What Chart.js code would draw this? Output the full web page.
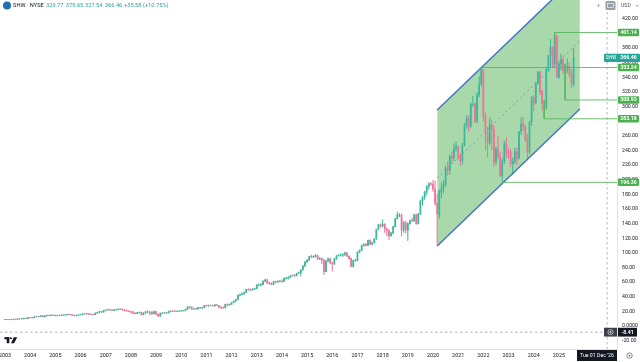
<!DOCTYPE html>
<html>
<head>
<meta charset="utf-8">
<title>SHW - NYSE</title>
<script src="https://cdn.jsdelivr.net/npm/chart.js@4"></script>
<style>
html,body{margin:0;padding:0;background:#fff;overflow:hidden}
canvas{display:block;filter:blur(.3px)}
</style>
</head>
<body>
<canvas id="chart" width="640" height="362"></canvas>
<script>
// monthly candles, Jan 2003 to Aug 2025, one row per year
const opens = [
  8.8,9.0,8.9,8.8,9.0,9.3,9.0,9.9,9.7,9.8,10.6,10.5,
  11.6,11.2,11.4,12.8,12.7,13.0,14.1,12.6,14.0,14.7,14.3,14.9,
  14.9,14.0,14.5,14.7,14.8,15.0,15.7,15.8,15.4,14.7,14.1,14.7,
  15.2,15.8,16.7,16.5,16.9,16.3,15.8,15.5,17.6,18.6,19.8,19.0,
  21.2,22.0,22.4,22.0,21.2,22.2,22.2,23.0,22.9,21.9,21.3,20.5,
  19.5,19.2,17.4,17.0,18.4,18.4,15.3,17.8,19.5,19.0,19.0,16.8,
  19.9,16.0,13.5,17.3,17.9,17.7,18.0,20.0,20.2,20.0,19.9,20.0,
  20.5,20.9,21.0,22.6,26.0,26.0,23.1,23.2,23.5,25.1,24.5,25.2,
  28.0,27.5,28.2,28.0,27.5,29.0,28.0,25.5,25.4,24.8,29.7,28.6,
  29.8,32,34,36,42,43,44,46,50,49.6,49.5,50.5,
  51.3,56,56,56.5,61,63,58.9,58,56.9,60.9,60,61,
  61.2,61,65,65.7,66.6,68.5,69,68.7,72,73,76.7,82,
  87.7,90,95,94.8,95,96.4,91.7,92.5,90,74.3,89,92,
  86.5,85,92,96,96.8,97,98,100,95.5,92.2,81.4,89.6,
  89.6,101,103.5,110,111.6,110,117,112,114,119,132,138.5,
  136.7,139,133,130.7,123.4,127,135.8,146.8,151.7,151.7,131,141,
  131,140,144,143.6,152,140,153,171,175.7,183,190.8,194.5,
  194,187,168,152,183,188,193,216,213,232,230,243,
  245,231,226,247,274,284,272,303,304,280,316,331,
  350,287,263,250,275,268,224,242,232,205,226,250,
  238,237,222,225,238,229,266,276,272,255,238,279,
  312,305,332,347,321,304,299,351,369,381,358,396,
  340,358,364,349,351,355,344,329.77
];
const highs = [
  9.3,9.2,9.2,9.3,9.6,9.5,10.1,10.1,10.2,10.9,10.9,11.8,
  11.9,11.7,13.0,13.1,13.3,14.3,14.3,14.2,15.0,15.0,15.2,15.4,
  15.1,14.9,15.0,15.2,15.4,16.0,16.2,16.1,15.6,14.9,15.0,15.5,
  16.1,17.1,17.0,17.4,17.2,16.6,16.0,17.9,19.0,20.1,20.2,21.5,
  22.2,23.0,22.8,22.5,22.6,23.0,24.0,23.6,23.4,22.4,22.0,20.9,
  20.0,20.3,18.6,18.8,19.5,18.9,18.2,20.1,21.0,20.0,19.5,20.6,
  20.2,16.3,17.9,18.5,18.6,18.6,20.5,21.0,20.8,21.0,20.4,20.9,
  21.3,21.5,23.2,26.6,27.0,26.3,24.3,24.6,25.7,25.7,25.8,28.4,
  28.6,28.7,28.9,28.7,29.4,29.4,28.4,26.4,26.3,30.0,30.2,30.3,
  32.4,34.5,36.5,42.5,44,45,46.5,50.5,51,50.8,51,52,
  56.5,58,58,62,64,64,60,59,61.5,61.5,62,62.5,
  63,65.5,66.5,67.5,69,70,70.5,72.5,74,77,82.5,88,
  91,95.5,97,96,98,97,93.5,93,91,89.5,93,93,
  87.5,92.5,96.5,97.5,98.5,99,101,100.5,96,93,90,91.5,
  101.5,104,110.5,112.5,113,117.5,118,114.5,119.5,132.5,139,140,
  145,140,134,131.5,128,136.5,147.5,156,153.5,153,143,143.5,
  141,145,148,153,153,154,172,177,184,192,196,196,
  199,198,180,186,196,199,219,224,234,238,249,252,
  246,236,250,277,287,288,305,314,305,319,341,354,
  350,291,272,285,282,274,245,260,238,229,253,258,
  243,241,230,243,243,266,285,285,275,262,280,314,
  315,333,348,348,322,308,354,370,392,382,401.14,398,
  362,372,368,358,365,360,350,379.65
];
const lows = [
  8.6,8.7,8.5,8.6,8.9,8.9,8.9,9.5,9.5,9.6,10.3,10.3,
  11.0,11.0,11.2,12.4,12.4,12.9,12.4,12.3,13.8,13.9,14.0,14.7,
  13.8,13.8,14.2,14.4,14.5,14.8,15.5,15.2,14.6,13.8,13.9,14.5,
  15.0,15.6,16.2,16.3,16.0,15.4,15.0,15.3,17.3,18.4,18.8,18.9,
  21.0,21.5,21.4,21.0,21.0,21.9,22.0,22.4,21.6,21.0,20.2,19.1,
  17.9,17.0,16.5,16.9,18.0,15.2,15.0,17.6,18.0,15.5,15.5,16.5,
  15.8,13.2,13.0,16.9,17.4,17.5,17.8,19.8,19.7,19.5,19.6,19.8,
  20.2,20.2,20.8,22.4,24.0,22.8,22.6,22.7,23.1,24.0,24.2,25.0,
  27.1,26.9,27.8,27.2,27.0,27.7,25.2,23.6,24.0,24.6,27.5,28.3,
  29.5,31.8,33.7,35.8,41.2,42.5,43.5,45.8,48.8,48.5,48.5,49.8,
  51.0,55,54.5,56,60.5,57.5,57,56,56.5,59,59.6,60.5,
  59.5,60.5,64.5,64,66,68.5,67.8,68.5,71.5,68,76.5,81.5,
  87,89.5,93,93.5,94,91,90.5,85,70,74,88,85,
  75,84,91,95.5,95.5,95,96,95,91.5,81,80.5,88.5,
  89,100,103,109,109,109.5,111,110.5,113.5,118.5,131.5,135,
  135.5,128,123.5,118,122.5,126,135,146,149,123,128,127,
  117,139,142.5,143,139,139.5,152.5,165,173,179,187,192,
  184,165,111,147,175,182,191,206,207,222,226,239,
  228,219,221,246,270,266,272,300,278,278,313,328,
  280,240,231,248,241,218,220,228,205,196.36,222,230,
  229,218,207,222,220,228,261,267,252,229,235,274,
  294,303,330,316,295,283.18,296,348,353,353,353,339,
  338,350,345,308.93,346,340,325,327.54
];
const closes = [
  9.0,8.9,8.8,9.0,9.3,9.0,9.9,9.7,9.8,10.6,10.5,11.6,
  11.2,11.4,12.8,12.7,13.0,14.1,12.6,14.0,14.7,14.3,14.9,14.9,
  14.0,14.5,14.7,14.8,15.0,15.7,15.8,15.4,14.7,14.1,14.7,15.2,
  15.8,16.7,16.5,16.9,16.3,15.8,15.5,17.6,18.6,19.8,19.0,21.2,
  22.0,22.4,22.0,21.2,22.2,22.2,23.0,22.9,21.9,21.3,20.5,19.5,
  19.2,17.4,17.0,18.4,18.4,15.3,17.8,19.5,19.0,19.0,16.8,19.9,
  16.0,13.5,17.3,17.9,17.7,18.0,20.0,20.2,20.0,19.9,20.0,20.5,
  20.9,21.0,22.6,26.0,26.0,23.1,23.2,23.5,25.1,24.5,25.2,28.0,
  27.5,28.2,28.0,27.5,29.0,28.0,25.5,25.4,24.8,29.7,28.6,29.8,
  32,34,36,42,43,44,46,50,49.6,49.5,50.5,51.3,
  56,56,56.5,61,63,58.9,58,56.9,60.9,60,61,61.2,
  61,65,65.7,66.6,68.5,69,68.7,72,73,76.7,82,87.7,
  90,95,94.8,95,96.4,91.7,92.5,90,74.3,89,92,86.5,
  85,92,96,96.8,97,98,100,95.5,92.2,81.4,89.6,89.6,
  101,103.5,110,111.6,110,117,112,114,119,132,138.5,136.7,
  139,133,130.7,123.4,127,135.8,146.8,151.7,151.7,131,141,131,
  140,144,143.6,152,140,153,171,175.7,183,190.8,194.5,194,
  187,168,153,184,188,193,216,212,232,229,242,245,
  230,226,246,274,283,272,303,303,280,316,330,352,
  287,263,250,275,268,224,242,232,205,225,249,237,
  237,222,225,238,228,265,276,272,255,238,279,312,
  304,332,347,320,304,298,351,369,381,357,397,340,
  358,363,349,351,355,344,331,366.46
];

const yearLabels = ['2003','2004','2005','2006','2007','2008','2009','2010','2011','2012','2013','2014','2015','2016','2017','2018','2019','2020','2021','2022','2023','2024','2025'];
const yearMonths = [0,12,24,36,48,60,72,84,96,108,120,132,144,156,168,180,192,204,216,228,240,252,264];
const priceTicks = [-20,0,20,40,60,80,100,120,140,160,180,200,220,240,260,280,300,320,340,360,380,400,420];

// channel drawn on the chart: month index, price
const channelMonths = [206,274];
const channelTop = [295.2,482.4];
const channelMid = [202.3,389.5];
const channelBottom = [109.3,296.6];

// horizontal levels: [month where it starts, price it drops from, level]
const levelValues = [401.14,353.24,308.93,283.18,196.36];
const levelMonths = [262,227,267,257,237];
const levelFrom = [384,353.24,358,309,196.36];

const lastPrice = 366.46;
const crossPrice = -8.41;
const crossMonth = 287;
const crossDate = "Tue 01 Dec '26";
const headerValues = ['329.77','379.65','327.54','366.46','+35.58 (+10.75%)'];

const UP = '#3cb79b', DOWN = '#ee7398', LEVEL = '#5cb860', BLUE = '#4674c4';
const FONT = 'Roboto, "Liberation Sans", sans-serif';
const X_MIN = -2.38, X_MAX = 291.7;

const candleColor = closes.map((c,i)=> c>=opens[i] ? UP : DOWN);
const months = closes.map((c,i)=> i);

const levelSets = levelValues.map((v,i)=>({
  type:'line',
  data:[{x:levelMonths[i],y:levelFrom[i]},{x:levelMonths[i],y:v},{x:X_MAX,y:v}],
  borderColor:LEVEL, borderWidth:.9, pointRadius:0, tension:0, order:0
}));

// everything TradingView paints around the plot
const overlay = {
  id:'overlay',
  afterDraw(chart){
    const {ctx} = chart;
    const x = chart.scales.x, y = chart.scales.y;
    const tag = (txt,py,bg)=>{
      ctx.fillStyle = bg;
      ctx.beginPath(); ctx.roundRect(618,py-3.7,21,7.4,1); ctx.fill();
      ctx.fillStyle = '#fff';
      ctx.fillText(txt,628.5,py+.2);
    };
    ctx.save();
    ctx.textBaseline = 'middle';

    // crosshair
    const cx = x.getPixelForValue(crossMonth), cy = y.getPixelForValue(crossPrice);
    ctx.strokeStyle = '#9598a1'; ctx.lineWidth = .7; ctx.setLineDash([2.5,2.5]);
    ctx.beginPath(); ctx.moveTo(cx,12); ctx.lineTo(cx,349); ctx.moveTo(0,cy); ctx.lineTo(604,cy); ctx.stroke();
    ctx.setLineDash([]);

    // level tags on the price axis
    ctx.font = 'bold 5.2px '+FONT; ctx.textAlign = 'center';
    levelValues.forEach(v => tag(v.toFixed(2),y.getPixelForValue(v),'#4caf50'));

    // last price tag
    const ly = y.getPixelForValue(lastPrice);
    ctx.fillStyle = '#26a69a';
    ctx.beginPath(); ctx.roundRect(604,ly-4.2,36,8.4,1); ctx.fill();
    ctx.fillStyle = '#fff'; ctx.font = '4.8px '+FONT;
    ctx.fillText('SHW',611,ly+.2);
    ctx.font = 'bold 5.2px '+FONT;
    ctx.fillText(lastPrice.toFixed(2),628.5,ly+.2);

    // crosshair price
    ctx.fillStyle = '#131722'; ctx.fillRect(618,cy-4.4,19,8.8);
    ctx.fillStyle = '#3c3f47'; ctx.fillRect(604,cy-4.4,13,8.8);
    ctx.strokeStyle = '#fff'; ctx.lineWidth = .6;
    ctx.beginPath(); ctx.arc(610.5,cy,2.6,0,Math.PI*2);
    ctx.moveTo(609.2,cy); ctx.lineTo(611.8,cy); ctx.moveTo(610.5,cy-1.3); ctx.lineTo(610.5,cy+1.3); ctx.stroke();
    ctx.fillStyle = '#fff';
    ctx.fillText(crossPrice.toFixed(2),627.5,cy+.2);

    // crosshair date
    ctx.fillStyle = '#131722'; ctx.fillRect(577,350,40,11);
    ctx.fillStyle = '#fff'; ctx.font = '5.2px '+FONT;
    ctx.fillText(crossDate,597,355.7);

    // header line
    ctx.fillStyle = '#1f6fb5';
    ctx.beginPath(); ctx.arc(7,5.6,4,0,Math.PI*2); ctx.fill();
    ctx.textAlign = 'left'; ctx.font = '5.7px '+FONT;
    ctx.fillStyle = '#131722'; ctx.fillText('SHW \u00b7 NYSE',13,5.8);
    ctx.fillStyle = '#26a69a';
    [46,65.8,85,104.8,124].forEach((px,i)=> ctx.fillText(headerValues[i],px,5.8));

    // top right buttons
    ctx.fillStyle = '#9a9ea6'; ctx.font = '7px '+FONT; ctx.textAlign = 'center';
    ctx.fillText('+',598.5,5.8);
    ctx.beginPath(); ctx.roundRect(605.5,1,10,9,1.5); ctx.fill();
    ctx.strokeStyle = '#fff'; ctx.lineWidth = .6; ctx.strokeRect(607.5,3.5,6,4);
    ctx.fillStyle = '#50535e'; ctx.font = '5.2px '+FONT; ctx.textAlign = 'left';
    ctx.fillText('USD',621,5.8);
    ctx.strokeStyle = '#50535e'; ctx.lineWidth = .6;
    ctx.beginPath(); ctx.moveTo(636,5); ctx.lineTo(637.3,6.3); ctx.lineTo(638.6,5); ctx.stroke();

    // settings button
    ctx.strokeStyle = '#50535e'; ctx.lineWidth = .7;
    ctx.beginPath(); ctx.arc(629.5,355.6,2.7,0,Math.PI*2); ctx.stroke();
    ctx.fillStyle = '#50535e';
    ctx.beginPath(); ctx.arc(629.5,355.6,.8,0,Math.PI*2); ctx.fill();

    // TradingView mark
    ctx.fillStyle = '#131722';
    ctx.fillRect(4.3,337.2,5,2); ctx.fillRect(6.7,337.2,2.6,6);
    ctx.beginPath(); ctx.arc(11,338.2,1,0,Math.PI*2); ctx.fill();
    ctx.beginPath(); ctx.moveTo(13.8,337.2); ctx.lineTo(17.3,337.2); ctx.lineTo(14,343.2); ctx.lineTo(11,343.2); ctx.fill();
    ctx.restore();
  }
};

new Chart(document.getElementById('chart'),{
  type:'bar',
  plugins:[overlay],
  data:{datasets:[
    // channel
    {type:'line',data:channelMonths.map((m,i)=>({x:m,y:channelBottom[i]})),borderColor:BLUE,borderWidth:1.5,pointRadius:0,order:1},
    {type:'line',data:channelMonths.map((m,i)=>({x:m,y:channelTop[i]})),borderColor:BLUE,borderWidth:1.5,pointRadius:0,order:6,fill:{target:0},backgroundColor:'rgba(76,175,80,.48)'},
    {type:'line',data:channelMonths.map((m,i)=>({x:m,y:channelMid[i]})),borderColor:'#5f8fb8',borderWidth:.8,borderDash:[2,3],pointRadius:0,order:5},
    ...levelSets,
    // candles
    {data:months.map(i=>({x:i,y:[lows[i],highs[i]]})),backgroundColor:candleColor,barThickness:.4,grouped:false,order:4},
    {data:months.map(i=>({x:i,y:[opens[i],closes[i]]})),backgroundColor:candleColor,barThickness:1.1,minBarLength:.3,grouped:false,order:3}
  ]},
  options:{
    responsive:false,
    animation:false,
    parsing:{xAxisKey:'x',yAxisKey:'y'},
    layout:{padding:0},
    plugins:{legend:{display:false},tooltip:{enabled:false},title:{display:false}},
    scales:{
      x:{
        type:'linear',min:X_MIN,max:X_MAX,offset:false,
        grid:{display:false,drawTicks:false},
        border:{display:true,color:'#e0e3eb'},
        afterBuildTicks(s){ s.ticks = yearMonths.map(v=>({value:v})); },
        afterFit(s){ s.height = 13; s.paddingLeft = 0; s.paddingRight = 0; },
        ticks:{
          autoSkip:false,maxRotation:0,padding:3,color:'#131722',font:{size:5.4,family:FONT},
          callback:v=> yearLabels[yearMonths.indexOf(v)]
        }
      },
      y:{
        position:'right',min:-31.4,max:445.5,
        grid:{display:false,drawTicks:false},
        border:{display:true,color:'#e0e3eb'},
        afterBuildTicks(s){ s.ticks = priceTicks.map(v=>({value:v})); },
        afterFit(s){ s.width = 23; s.paddingTop = 0; s.paddingBottom = 0; },
        ticks:{
          autoSkip:false,padding:5,color:'#131722',font:{size:5.2,family:FONT},
          callback:v=> v===0 ? '0.0000' : v.toFixed(2)
        }
      }
    }
  }
});
</script>
</body>
</html>
